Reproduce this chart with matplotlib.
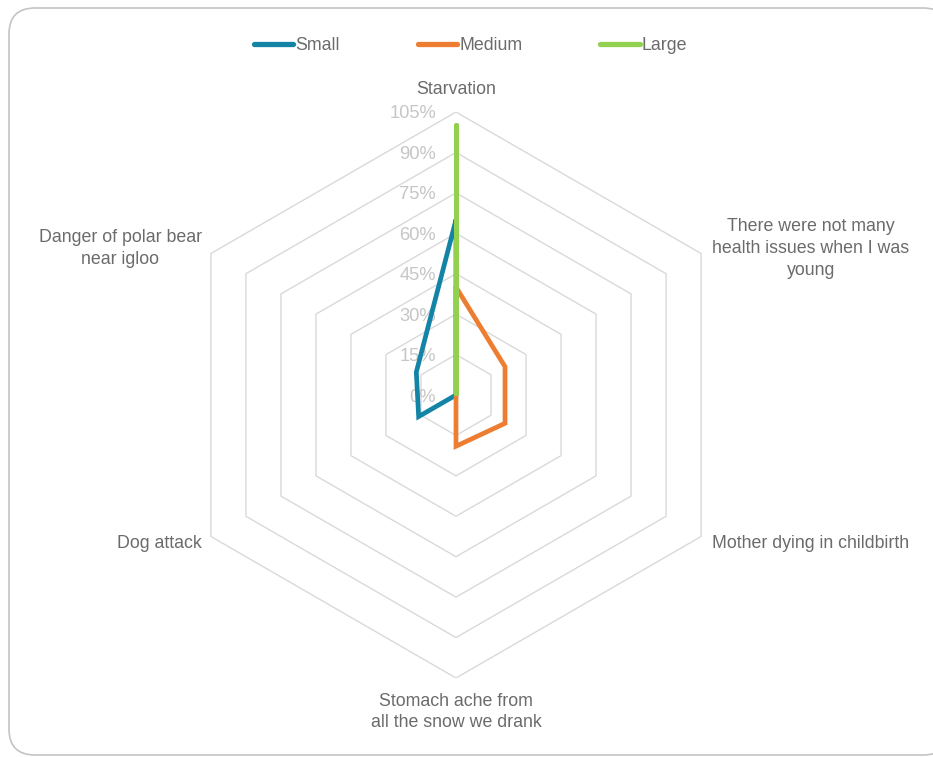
import numpy as np
import matplotlib.pyplot as plt
from matplotlib.patches import FancyBboxPatch

plt.rcParams['font.family'] = ['Liberation Sans', 'DejaVu Sans']

categories = ['Starvation',
              'There were not many\nhealth issues when I was\nyoung',
              'Mother dying in childbirth',
              'Stomach ache from\nall the snow we drank',
              'Dog attack',
              'Danger of polar bear\nnear igloo']
small = [65, 0, 0, 0, 16, 17]
medium = [40, 21, 21, 19, 0, 0]
large = [100, 0, 0, 0, 0, 0]
ticks = [0, 15, 30, 45, 60, 75, 90, 105]
tick_labels = ['0%', '15%', '30%', '45%', '60%', '75%', '90%', '105%']

series = [('Small', small, '#1384A6'),
          ('Medium', medium, '#ED7D31'),
          ('Large', large, '#92D050')]

W, H = 933, 757
fig = plt.figure(figsize=(W / 100, H / 100), dpi=100)

# frame around the whole chart, drawn in pixel units
bg = fig.add_axes([0, 0, 1, 1], zorder=-1)
bg.set_xlim(0, W)
bg.set_ylim(H, 0)
bg.axis('off')
bg.add_patch(FancyBboxPatch((9, 8), 940, 747, boxstyle='round,pad=0,rounding_size=26',
                            fc='white', ec='#C4C4C4', lw=1.2))

# radar area: centre at (456, 395) px, 105% ring = 283 px
cx, cy, R = 456, 395, 283
ax = fig.add_axes([(cx - R) / W, (H - cy - R) / H, 2 * R / W, 2 * R / H])
ax.set_xlim(-105, 105)
ax.set_ylim(-105, 105)
ax.axis('off')

n = len(categories)
theta = np.arange(n) * 2 * np.pi / n
ux, uy = np.sin(theta), np.cos(theta)


def closed(vals):
    v = np.asarray(vals, dtype=float)
    x, y = v * ux, v * uy
    return np.append(x, x[0]), np.append(y, y[0])


for t in ticks[1:]:
    gx, gy = closed([t] * n)
    ax.plot(gx, gy, color='#D9D9D9', lw=1.0, zorder=1)

for t, lab in zip(ticks, tick_labels):
    ax.annotate(lab, (0, t), xytext=(-20, -2), textcoords='offset pixels',
                ha='right', va='center', fontsize=13.2, color='#C6C6C6', zorder=2)

for name, vals, col in series:
    sx, sy = closed(vals)
    ax.plot(sx, sy, color=col, lw=3.4, label=name, zorder=3,
            solid_capstyle='round', solid_joinstyle='miter')

offsets = [((0, 22), 'center'), ((11, 5), 'left'), ((11, -7), 'left'),
           ((0, -34), 'center'), ((-9, -7), 'right'), ((-9, 5), 'right')]
for i, lab in enumerate(categories):
    (dx, dy), ha = offsets[i]
    ax.annotate(lab, (105 * ux[i], 105 * uy[i]), xytext=(dx, dy),
                textcoords='offset pixels', ha=ha, va='center',
                multialignment='center', fontsize=12.8, color='#6B6B6B',
                linespacing=1.35, annotation_clip=False)

leg = fig.legend(loc='center', bbox_to_anchor=(470.5 / W, 1 - 46 / H), ncol=3,
                 frameon=False, fontsize=12.8, handlelength=2.2, handletextpad=0.12,
                 columnspacing=4.4, labelcolor='#6B6B6B')
for h in leg.legend_handles:
    h.set_linewidth(3.8)
    h.set_solid_capstyle('round')

fig.savefig('out.png', dpi=100)
